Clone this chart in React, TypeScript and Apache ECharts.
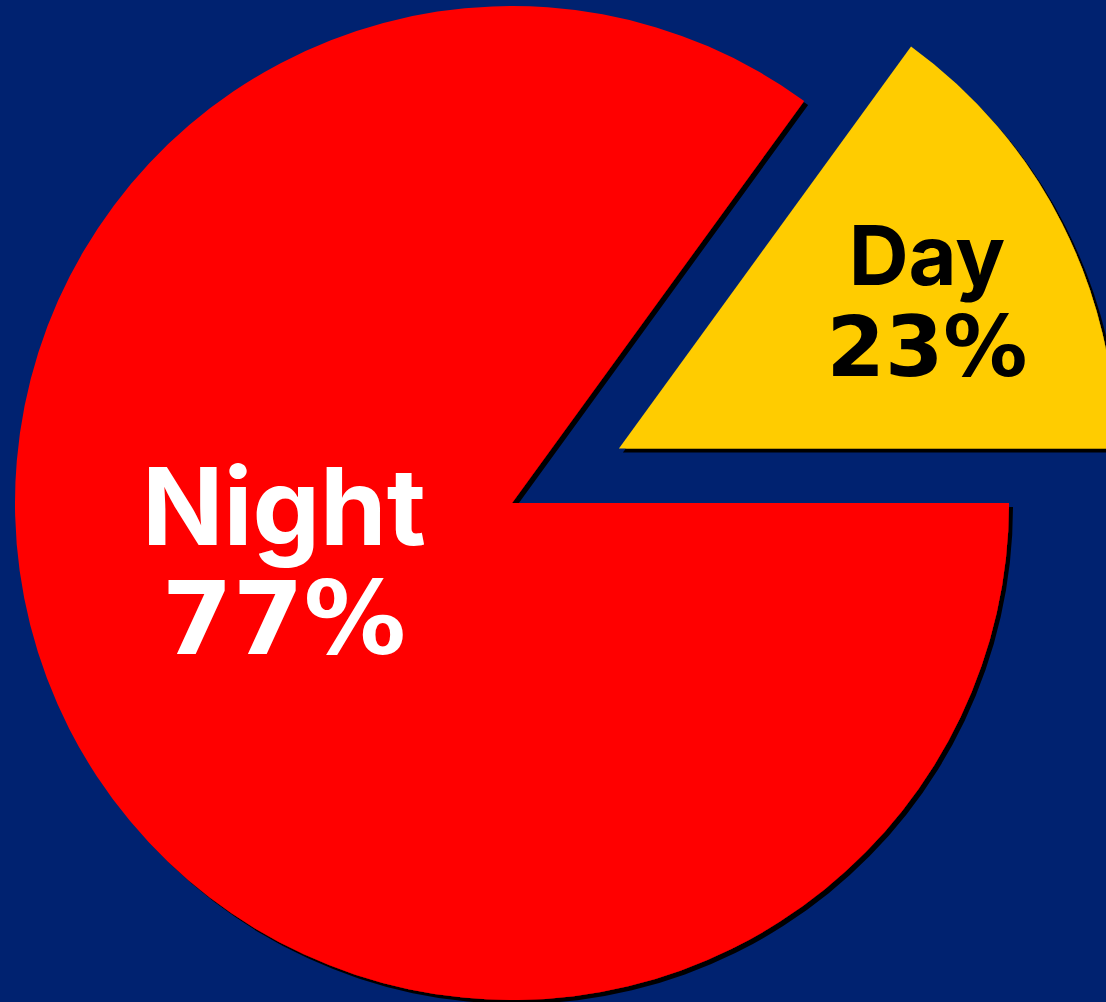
import React, { useEffect, useRef } from "react";
import * as echarts from "echarts";

const categories = ["Day", "Night"];
// angular shares as drawn in the picture (Day wedge ≈ 54°)
const drawnShares = [15, 85];
const percentLabels = ["23%", "77%"];
const colors = ["#FFCC00", "#FF0000"];
const textColors = ["#000000", "#FFFFFF"];

export default function App() {
  const ref = useRef<HTMLDivElement>(null);
  useEffect(() => {
    if (!ref.current) return;
    const chart = echarts.init(ref.current, undefined, { renderer: "svg" });
    const data = categories.map((name, i) => ({
      name,
      value: drawnShares[i],
      selected: i === 0,
      itemStyle: { color: colors[i] },
      label: {
        formatter: i === 0 ? `{a|${name}}\n{b|${percentLabels[i]}}` : `{c|${name}}\n{d|${percentLabels[i]}}`,
      },
    }));
    const shifts = [
      [84, -33],
      [-4, -55],
    ];
    const font = "Inter";
    const numFont = "DejaVu Sans";
    chart.setOption({
      animation: false,
      backgroundColor: "#002270",
      series: [
        {
          type: "pie",
          center: [512, 503],
          radius: 497,
          startAngle: 54,
          clockwise: true,
          selectedMode: "single",
          selectedOffset: 120,
          avoidLabelOverlap: false,
          emphasis: { disabled: true },
          itemStyle: {
            shadowColor: "#000000",
            shadowBlur: 0,
            shadowOffsetX: 4,
            shadowOffsetY: 4,
          },
          labelLayout: (p: any) => ({ dx: shifts[p.dataIndex][0], dy: shifts[p.dataIndex][1] }),
          label: {
            show: true,
            position: "inside",
            align: "center",
            rich: {
              a: { fontFamily: font, fontWeight: "bold", fontSize: 83, lineHeight: 92, color: textColors[0], align: "center" },
              b: { fontFamily: numFont, fontWeight: "bold", fontSize: 84, lineHeight: 92, color: textColors[0], align: "center" },
              c: {
                fontFamily: font, fontWeight: "bold", fontSize: 107, lineHeight: 113, color: textColors[1], align: "center",
                textShadowColor: "#000", textShadowOffsetX: 4, textShadowOffsetY: 4, textShadowBlur: 0,
              },
              d: {
                fontFamily: numFont, fontWeight: "bold", fontSize: 102, lineHeight: 113, color: textColors[1], align: "center",
                textShadowColor: "#000", textShadowOffsetX: 4, textShadowOffsetY: 4, textShadowBlur: 0,
              },
            },
          },
          labelLine: { show: false },
          data,
        },
      ],
    });
    return () => chart.dispose();
  }, []);
  return <div ref={ref} style={{ position: "fixed", left: 0, top: 0, width: 1106, height: 1002 }} />;
}
